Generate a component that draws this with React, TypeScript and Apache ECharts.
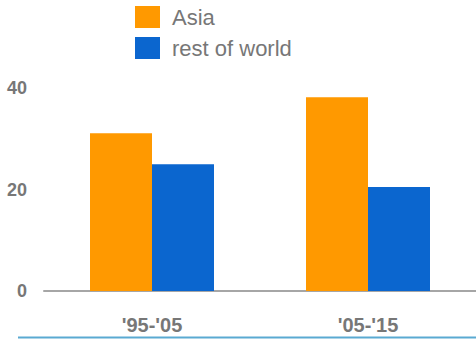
import React, { useEffect, useRef } from "react";
import * as echarts from "echarts";

const categories = ["'95-'05", "'05-'15"];
const asia = [31.1, 38.2];
const restOfWorld = [25.0, 20.5];
const yTicks = [0, 20, 40];

export default function App() {
  const ref = useRef<HTMLDivElement>(null);
  useEffect(() => {
    if (!ref.current) return;
    const chart = echarts.init(ref.current, undefined, { renderer: "svg" });
    chart.setOption({
      animation: false,
      backgroundColor: "#ffffff",
      legend: {
        orient: "vertical",
        left: 130,
        top: 1,
        itemWidth: 25,
        itemHeight: 22,
        itemGap: 9,
        icon: "rect",
        textStyle: { color: "#777777", fontSize: 22, fontFamily: "Liberation Sans, Arial, sans-serif", padding: [0, 0, 0, 7] },
        data: ["Asia", "rest of world"],
      },
      grid: { left: 44, right: 0, top: 88, bottom: 51 },
      xAxis: {
        type: "category",
        data: categories,
        axisLine: { show: true, lineStyle: { color: "#a6a6a6", width: 2 } },
        axisTick: { show: false },
        axisLabel: {
          color: "#777777",
          fontSize: 20,
          fontWeight: "bold",
          fontFamily: "Liberation Sans, Arial, sans-serif",
          margin: 24,
        },
      },
      yAxis: {
        type: "value",
        min: yTicks[0],
        max: yTicks[yTicks.length - 1],
        interval: 20,
        axisLine: { show: false },
        axisTick: { show: false },
        splitLine: { show: false },
        axisLabel: {
          color: "#777777",
          fontSize: 18,
          fontWeight: "bold",
          fontFamily: "Liberation Sans, Arial, sans-serif",
          margin: 17,
        },
      },
      series: [
        {
          name: "Asia",
          type: "bar",
          data: asia,
          barWidth: 62,
          barGap: "0%",
          itemStyle: { color: "#ff9900" },
        },
        {
          name: "rest of world",
          type: "bar",
          data: restOfWorld,
          barWidth: 62,
          barGap: "0%",
          itemStyle: { color: "#0b66cf" },
        },
      ],
      graphic: [
        {
          type: "line",
          shape: { x1: 18, y1: 337.5, x2: 476, y2: 337.5 },
          style: { stroke: "#5aaad2", lineWidth: 2 },
        },
      ],
    });
    return () => chart.dispose();
  }, []);
  return <div ref={ref} style={{ width: 476, height: 342, position: "fixed", left: 0, top: 0 }} />;
}
